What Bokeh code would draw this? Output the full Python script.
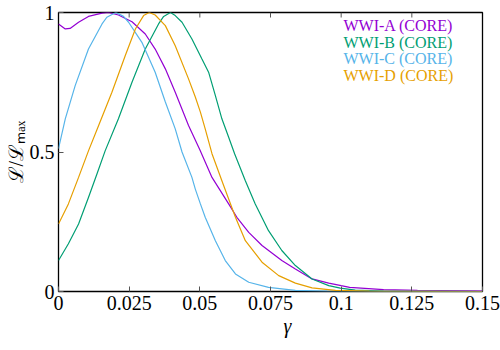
from bokeh.plotting import figure
from bokeh.models import Range1d, LinearAxis, FixedTicker, Title, ColumnDataSource
from bokeh.core.properties import value
from bokeh.embed import file_html
from bokeh.resources import INLINE

# ---- data ----
gamma_A = [0, 0.0024, 0.0041, 0.0071, 0.0106, 0.0154, 0.0177, 0.0212, 0.026, 0.0307, 0.0342,
           0.0378, 0.0413, 0.046, 0.05, 0.0543, 0.0602, 0.0631, 0.0673, 0.072, 0.079, 0.0838,
           0.0897, 0.0956, 0.1, 0.103, 0.115, 0.127, 0.15]
like_A = [0.959, 0.941, 0.943, 0.965, 0.986, 0.998, 1.0, 0.991, 0.967, 0.923, 0.869,
          0.798, 0.714, 0.595, 0.508, 0.409, 0.314, 0.266, 0.212, 0.165, 0.111, 0.081,
          0.045, 0.030, 0.021, 0.015, 0.007, 0.004, 0.001]

gamma_B = [0, 0.0035, 0.0071, 0.0106, 0.0136, 0.0165, 0.0212, 0.026, 0.0307, 0.0354, 0.0372,
           0.0396, 0.0413, 0.0437, 0.0472, 0.0507, 0.0531, 0.0555, 0.0578, 0.0602, 0.0623, 0.0661,
           0.0696, 0.0743, 0.079, 0.0838, 0.0897, 0.0956, 0.0997, 0.105, 0.115, 0.15]
like_B = [0.111, 0.171, 0.242, 0.337, 0.421, 0.504, 0.619, 0.75, 0.869, 0.959, 0.986,
          1.0, 0.989, 0.965, 0.905, 0.834, 0.786, 0.702, 0.619, 0.553, 0.494, 0.397,
          0.314, 0.218, 0.147, 0.093, 0.045, 0.021, 0.012, 0.005, 0.001, 0.0]

gamma_C = [0, 0.0024, 0.0059, 0.0106, 0.0154, 0.0171, 0.0203, 0.023, 0.0248, 0.0295, 0.0342,
           0.0378, 0.0413, 0.0437, 0.0472, 0.0484, 0.0502, 0.0519, 0.0555, 0.059, 0.0626,
           0.0673, 0.0743, 0.0838, 0.095, 0.15]
like_C = [0.512, 0.619, 0.738, 0.869, 0.959, 0.983, 1.0, 0.986, 0.965, 0.893, 0.786,
          0.679, 0.583, 0.5, 0.409, 0.367, 0.314, 0.266, 0.182, 0.111, 0.063,
          0.033, 0.015, 0.004, 0.001, 0.0]

gamma_D = [0, 0.0035, 0.0071, 0.0106, 0.0142, 0.0189, 0.0236, 0.0272, 0.0301, 0.0321, 0.0342,
           0.0378, 0.0413, 0.046, 0.0484, 0.0502, 0.0519, 0.0543, 0.0578, 0.0626, 0.0661,
           0.072, 0.0779, 0.0838, 0.0897, 0.098, 0.11, 0.15]
like_D = [0.242, 0.314, 0.409, 0.504, 0.595, 0.714, 0.845, 0.941, 0.989, 1.0, 0.991,
          0.953, 0.881, 0.762, 0.697, 0.643, 0.583, 0.494, 0.397, 0.266, 0.182,
          0.105, 0.057, 0.030, 0.013, 0.004, 0.001, 0.0]

series_names = ["WWI-A (CORE)", "WWI-B (CORE)", "WWI-C (CORE)", "WWI-D (CORE)"]
series_colors = ["#9400D3", "#009E73", "#56B4E9", "#E69F00"]

x_ticks = [0, 0.025, 0.05, 0.075, 0.1, 0.125, 0.15]
x_tick_labels = ["0", "0.025", "0.05", "0.075", "0.1", "0.125", "0.15"]
y_ticks = [0, 0.5, 1]
y_tick_labels = ["0", "0.5", "1"]
x_title = "γ"
y_title = "ℒ/ℒₘₐₓ"

FONT = "Liberation Serif"
X0, X1, Y0, Y1 = 0, 0.15, 0, 1
FRAME_W, FRAME_H = 424, 279

p = figure(width=500, height=350, output_backend="svg", toolbar_location=None,
           x_range=Range1d(X0, X1), y_range=Range1d(Y0, Y1),
           min_border_left=58, min_border_right=18, min_border_top=12, min_border_bottom=59,
           x_axis_type=None, y_axis_type=None)
p.grid.visible = False
p.outline_line_color = "black"
p.outline_line_width = 1.3
p.background_fill_color = "white"
p.border_fill_color = "white"

def style_axis(ax, ticks, labels):
    ax.ticker = FixedTicker(ticks=ticks, minor_ticks=[])
    ax.major_label_overrides = {t: l for t, l in zip(ticks, labels)}
    ax.axis_line_color = None
    ax.major_tick_in = 5
    ax.major_tick_out = 0
    ax.major_tick_line_color = "#555555"
    ax.major_tick_line_width = 1
    ax.minor_tick_line_color = None
    ax.major_label_text_font = FONT
    ax.major_label_text_color = "black"
    ax.major_label_standoff = 4
    ax.major_label_text_font_size = "20px"

xb = LinearAxis()
style_axis(xb, x_ticks, x_tick_labels)
p.add_layout(xb, "below")
yl = LinearAxis()
style_axis(yl, y_ticks, y_tick_labels)
yl.axis_label = y_title
yl.axis_label_text_font = FONT
yl.axis_label_text_font_style = "normal"
yl.axis_label_text_font_size = "20px"
yl.axis_label_text_color = "black"
yl.axis_label_standoff = 0
p.add_layout(yl, "left")

p.add_layout(Title(text=x_title, align="left", offset=225, standoff=0,
                   text_font=FONT, text_font_style="italic", text_font_size="20px",
                   text_color="black"), "below")

# mirrored (inward) x ticks along the top border
tick_len = 5 / FRAME_H * (Y1 - Y0)
inner = x_ticks[1:-1]
p.segment(x0=inner, y0=[Y1] * len(inner), x1=inner, y1=[Y1 - tick_len] * len(inner),
          line_color="#555555", line_width=1)

for gx, ly, c in [(gamma_A, like_A, series_colors[0]), (gamma_B, like_B, series_colors[1]),
                  (gamma_C, like_C, series_colors[2]), (gamma_D, like_D, series_colors[3])]:
    p.line(gx, ly, line_color=c, line_width=1.2)

# legend as coloured text (gnuplot style), placed by pixel offset within the frame
def dx(px):
    return X0 + px / FRAME_W * (X1 - X0)

def dy(px):
    return Y0 + px / FRAME_H * (Y1 - Y0)

leg = ColumnDataSource(dict(
    x=[dx(285)] * len(series_names),
    y=[dy(266 - i * 16.7) for i in range(len(series_names))],
    text=series_names, color=series_colors))
p.text(x="x", y="y", text="text", text_color="color", source=leg,
       text_font=value(FONT), text_font_size=value("16px"),
       text_align="left", text_baseline="middle")

open("out.html", "w").write(file_html(p, INLINE))
